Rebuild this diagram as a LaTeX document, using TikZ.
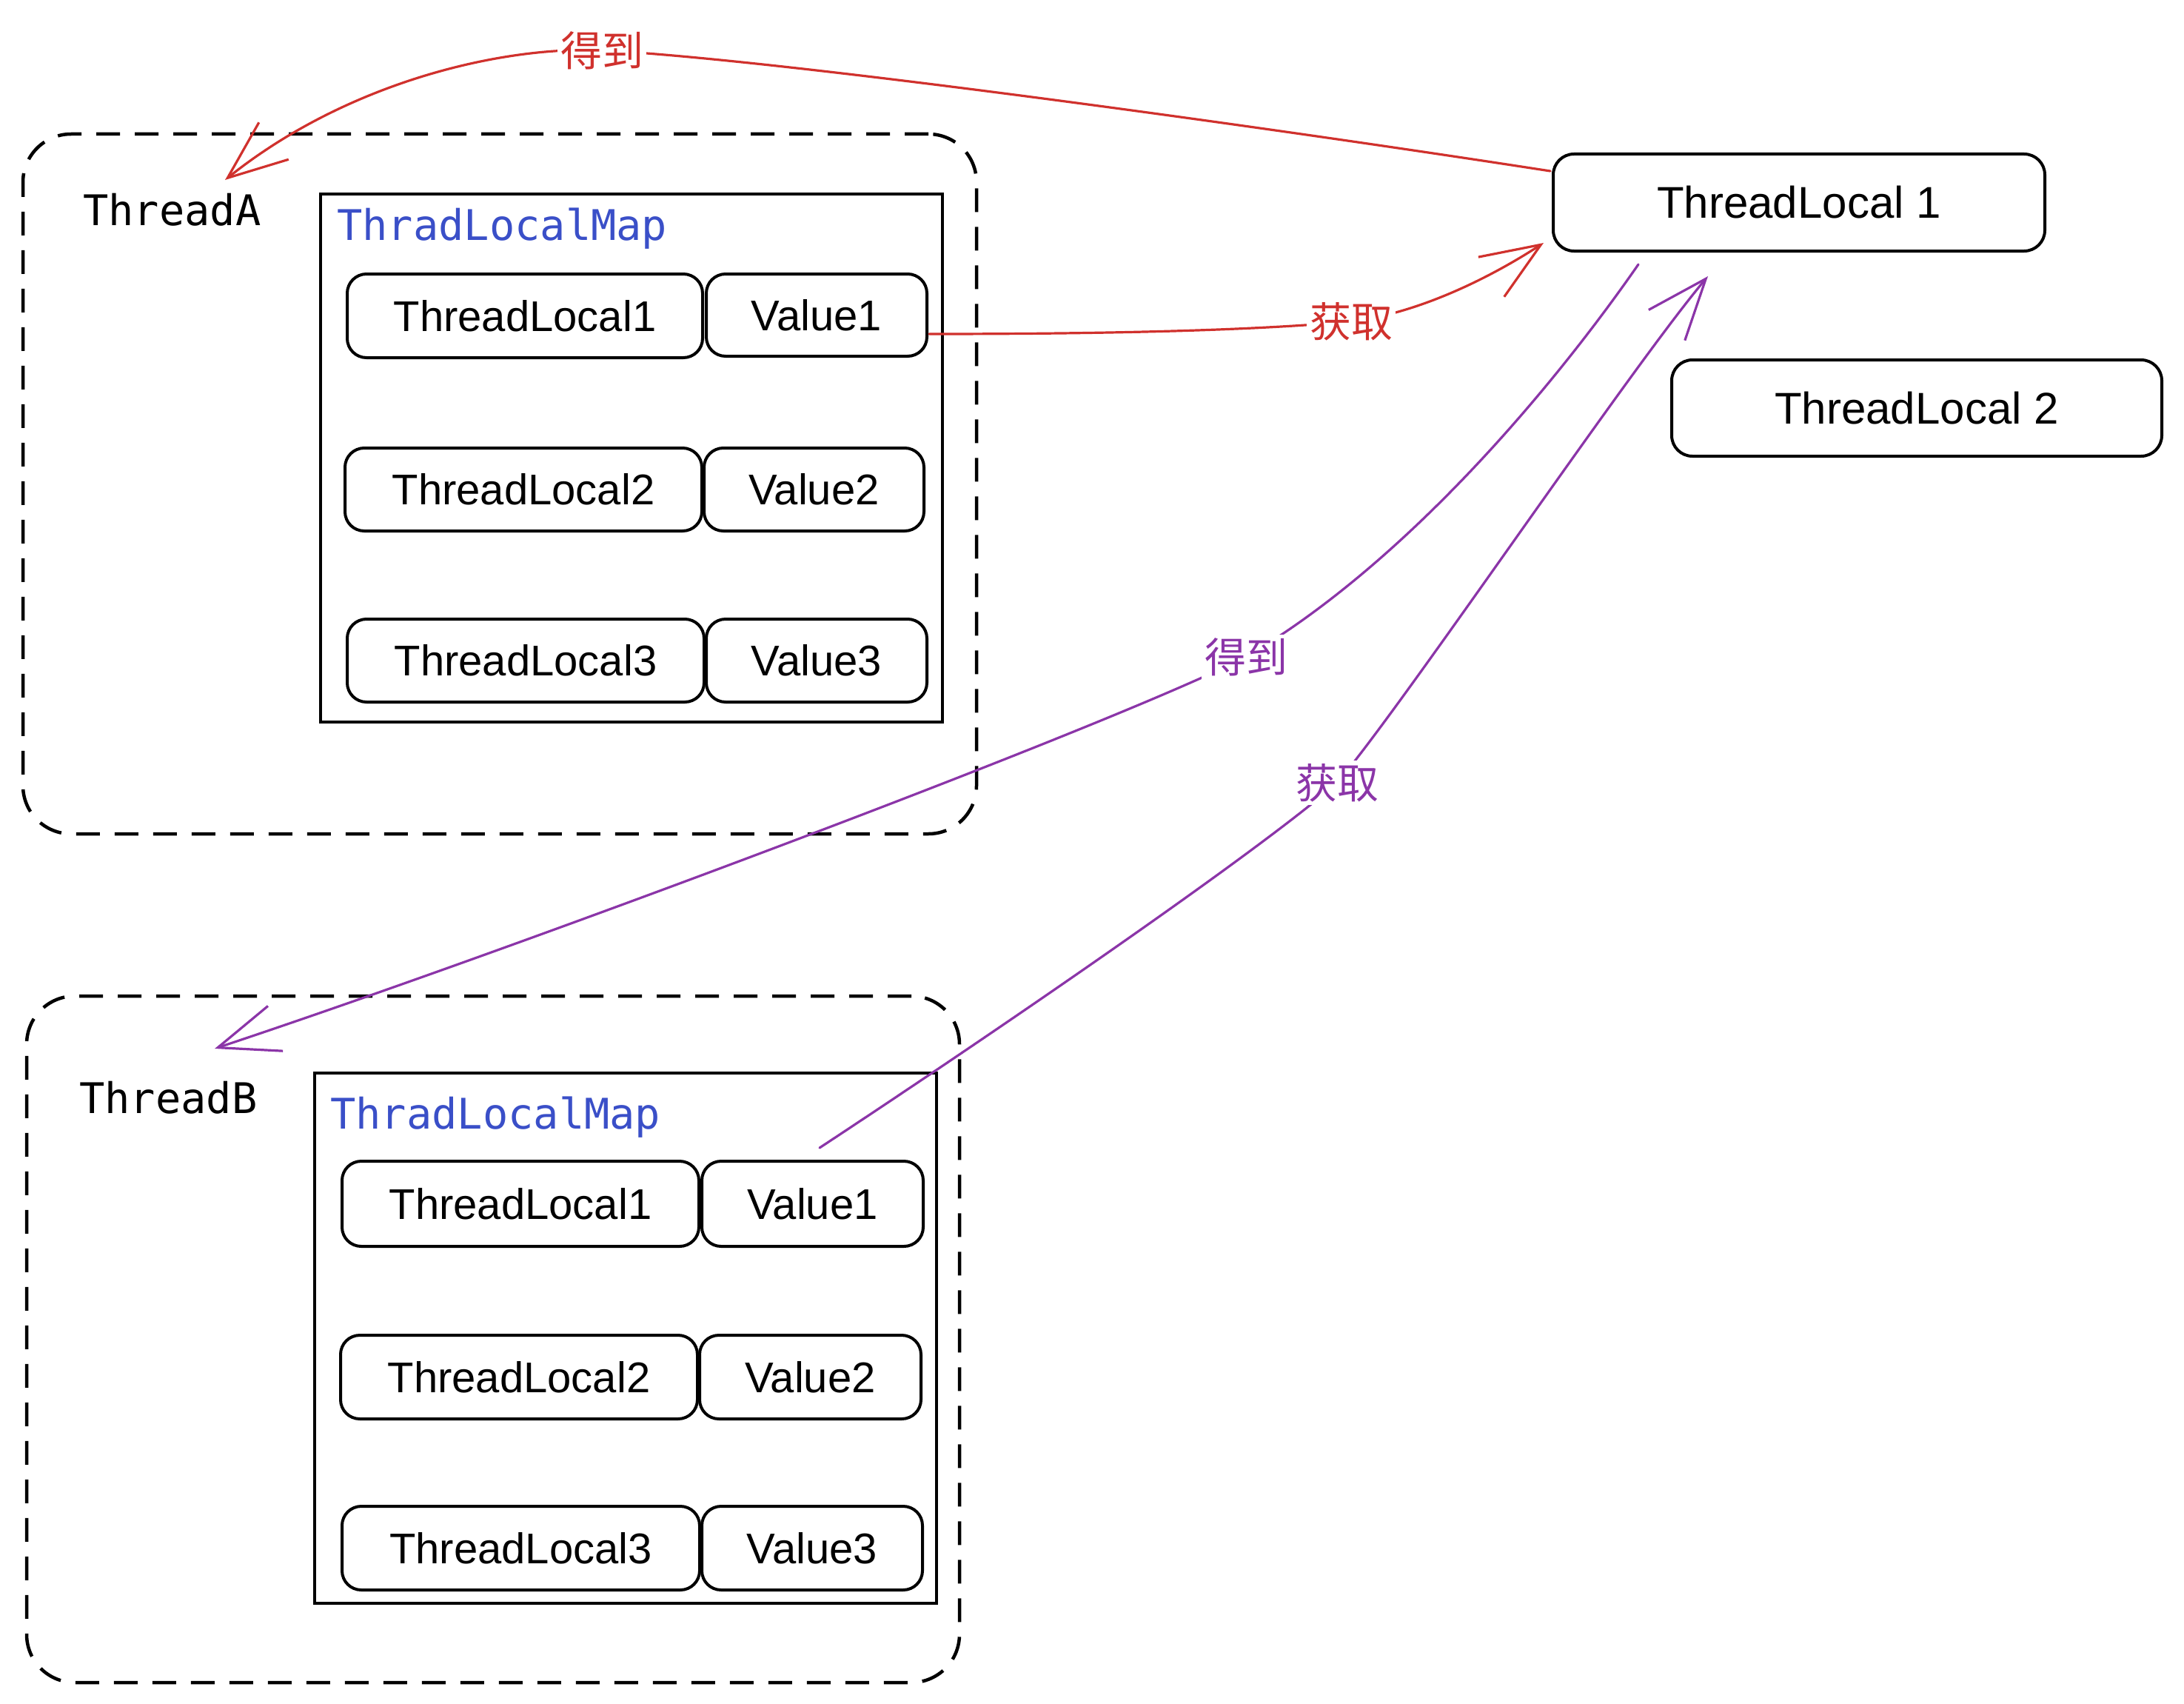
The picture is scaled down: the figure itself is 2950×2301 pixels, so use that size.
\documentclass[tikz,border=0pt]{standalone}
\usepackage{fontspec}
\setmainfont{Liberation Sans}
\newfontfamily\monof{DejaVu Sans Mono}
\newfontfamily\cjk{Noto Sans CJK SC}
\usetikzlibrary{arrows.meta}
\definecolor{exred}{HTML}{D0312D}
\definecolor{expurple}{HTML}{8B35A8}
\definecolor{exblue}{HTML}{3A4FC8}
\tikzset{
  threadbox/.style={draw=black, line width=4.5pt, dash pattern=on 32pt off 20pt, rounded corners=65pt, inner sep=0pt},
  mapbox/.style={draw=black, line width=4pt, inner sep=0pt},
  cell/.style={draw=black, line width=4pt, rounded corners=26pt, inner sep=0pt, font=\fontsize{58}{60}\selectfont},
  tlbox/.style={draw=black, line width=4pt, rounded corners=28pt, inner sep=0pt, font=\fontsize{60}{62}\selectfont},
  monotext/.style={inner sep=0pt, font=\monof\fontsize{57}{60}\selectfont},
  maptext/.style={monotext, text=exblue},
  redarrow/.style={draw=exred, line width=3.2pt, line cap=round, line join=round, -{Straight Barb[length=80pt,width=64pt,line width=3.2pt]}},
  purplearrow/.style={draw=expurple, line width=3.2pt, line cap=round, line join=round, -{Straight Barb[length=82pt,width=64pt,line width=3.2pt]}},
  cjklabel/.style={fill=white, inner sep=4pt, font=\cjk\fontsize{56}{58}\selectfont}
}
\begin{document}
\begin{tikzpicture}[x=1pt,y=-1pt]
\useasboundingbox (0,0) rectangle (2950,2301);
\fill[white] (0,0) rectangle (2950,2301);

% ---------- Thread A ----------
\node[threadbox, minimum width=1288pt, minimum height=945pt] (threadA) at (675,653.5) {};
\node[monotext, anchor=base west] (labA) at (112,304) {ThreadA};
\node[mapbox, minimum width=840pt, minimum height=713pt] (mapA) at (853,618.5) {};
\node[maptext, anchor=base west] (mapAlab) at (455,324) {ThradLocalMap};
\node[cell, minimum width=480pt, minimum height=113pt] (a1k) at (709,426.5) {ThreadLocal1};
\node[cell, minimum width=298pt, minimum height=111pt] (a1v) at (1103,425.5) {Value1};
\node[cell, minimum width=482pt, minimum height=112pt] (a2k) at (707,661) {ThreadLocal2};
\node[cell, minimum width=297pt, minimum height=112pt] (a2v) at (1099.5,661) {Value2};
\node[cell, minimum width=482pt, minimum height=112pt] (a3k) at (710,892) {ThreadLocal3};
\node[cell, minimum width=298pt, minimum height=112pt] (a3v) at (1103,892) {Value3};

% ---------- Thread B ----------
\node[threadbox, minimum width=1260pt, minimum height=927pt] (threadB) at (666,1808.5) {};
\node[monotext, anchor=base west] (labB) at (107,1503) {ThreadB};
\node[mapbox, minimum width=840pt, minimum height=716pt] (mapB) at (845,1807) {};
\node[maptext, anchor=base west] (mapBlab) at (446,1524) {ThradLocalMap};
\node[cell, minimum width=482pt, minimum height=115pt] (b1k) at (703,1625.5) {ThreadLocal1};
\node[cell, minimum width=299pt, minimum height=115pt] (b1v) at (1097.5,1625.5) {Value1};
\node[cell, minimum width=482pt, minimum height=113pt] (b2k) at (701,1859.5) {ThreadLocal2};
\node[cell, minimum width=299pt, minimum height=113pt] (b2v) at (1094.5,1859.5) {Value2};
\node[cell, minimum width=483pt, minimum height=113pt] (b3k) at (703.5,2090.5) {ThreadLocal3};
\node[cell, minimum width=298pt, minimum height=113pt] (b3v) at (1097,2090.5) {Value3};

% ---------- ThreadLocal objects ----------
\node[tlbox, minimum width=664pt, minimum height=131pt] (tl1) at (2430,273.5) {ThreadLocal 1};
\node[tlbox, minimum width=662pt, minimum height=130pt] (tl2) at (2589,551) {ThreadLocal 2};

% ---------- connector end points ----------
\coordinate (r1s) at (2094,231);
\coordinate (r1l) at (813,68);
\coordinate (r1t) at (304,243);
\coordinate (r2s) at (1255,451);
\coordinate (r2l) at (1825,434);
\coordinate (r2t) at (2085,328);
\coordinate (p1s) at (2213,357);
\coordinate (p1l) at (1683,887);
\coordinate (p1t) at (290,1416);
\coordinate (p2s) at (1107,1550);
\coordinate (p2l) at (1806,1057);
\coordinate (p2t) at (2307,373);

% red: ThreadLocal 1 -> ThreadA  (得到)
\draw[redarrow] (r1s) .. controls (1700,170) and (1050,80) .. (r1l)
                      .. controls (680,62) and (470,110) .. (r1t);
% red: Value1 (A) -> ThreadLocal 1 (获取)
\draw[redarrow] (r2s) .. controls (1500,451) and (1700,446) .. (r2l)
                      .. controls (1910,424) and (2005,380) .. (r2t);
% purple: ThreadLocal 1 -> ThreadB (得到)
\draw[purplearrow] (p1s) .. controls (2100,520) and (1900,760) .. (p1l)
                         .. controls (1500,980) and (700,1280) .. (p1t);
% purple: Value1 (B) -> ThreadLocal 1 (获取)
\draw[purplearrow] (p2s) .. controls (1350,1390) and (1700,1150) .. (p2l)
                         .. controls (1890,960) and (2200,500) .. (p2t);

% labels
\node[cjklabel, text=exred] (lr1) at (r1l) {得到};
\node[cjklabel, text=exred] (lr2) at (r2l) {获取};
\node[cjklabel, text=expurple] (lp1) at (p1l) {得到};
\node[cjklabel, text=expurple] (lp2) at (p2l) {获取};
\end{tikzpicture}
\end{document}
